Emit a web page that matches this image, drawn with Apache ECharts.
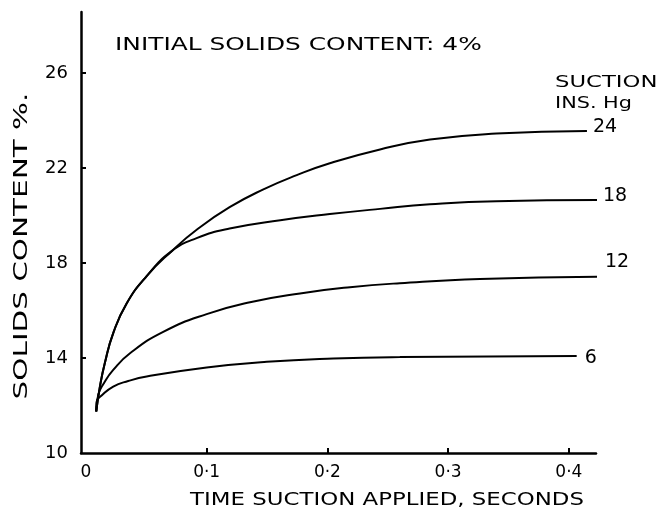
<!DOCTYPE html>
<html>
<head>
<meta charset="utf-8">
<script src="https://cdn.jsdelivr.net/npm/echarts@6/dist/echarts.min.js"></script>
<style>
html,body{margin:0;padding:0;background:#fff;}
#chart{width:661px;height:513px;}
</style>
</head>
<body>
<div id="chart"></div>
<script>
// Time suction applied (seconds) vs solids content (%)
const xTickValues = [0, 0.1, 0.2, 0.3, 0.4];
const yTickValues = [10, 14, 18, 22, 26];
const suctionNames = ['24', '18', '12', '6'];

const suction24 = [[0.0085,11.75],[0.0116,12.8],[0.0157,13.8],[0.0226,15.05],[0.0337,16.3],[0.0503,17.45],[0.071,18.5],[0.0917,19.4],[0.119,20.35],[0.147,21.1],[0.1746,21.7],[0.202,22.2],[0.2436,22.78],[0.285,23.2],[0.340,23.45],[0.415,23.56]];
const suction18 = [[0.0085,11.75],[0.0116,12.8],[0.0157,13.8],[0.0226,15.05],[0.0337,16.3],[0.0503,17.45],[0.071,18.5],[0.0917,19.05],[0.119,19.45],[0.161,19.8],[0.202,20.06],[0.2436,20.28],[0.285,20.47],[0.34,20.6],[0.438,20.65]];
const suction12 = [[0.0085,11.75],[0.0102,12.45],[0.015,12.95],[0.0226,13.5],[0.0365,14.2],[0.064,15.1],[0.1,15.85],[0.1359,16.35],[0.1773,16.72],[0.2187,16.98],[0.26,17.15],[0.3264,17.33],[0.4286,17.42]];
const suction6 = [[0.0085,11.75],[0.0089,12.16],[0.013,12.42],[0.0226,12.8],[0.035,13.03],[0.0503,13.22],[0.1,13.6],[0.1497,13.84],[0.2049,13.98],[0.26,14.04],[0.4065,14.08]];

const seriesData = [suction24, suction18, suction12, suction6];
const labelOffsets = [[0,-4],[0,-4],[2,-15],[2,2]];

const FONT = 'DejaVu Sans';
const chart = echarts.init(document.getElementById('chart'), null, {renderer:'canvas'});

const option = {
  backgroundColor: '#ffffff',
  animation: false,
  grid: {left: 81, right: 65, top: 12, bottom: 60, containLabel: false},
  xAxis: {
    type: 'value',
    min: -0.0041,
    max: 0.4225,
    splitLine: {show: false},
    axisLine: {show: true, onZero: false, lineStyle: {color: '#000', width: 2.5}},
    axisTick: {show: true, inside: true, length: 5, customValues: xTickValues.slice(1), lineStyle: {color: '#000', width: 2}},
    axisLabel: {
      customValues: xTickValues,
      margin: 11,
      color: '#000',
      fontFamily: FONT,
      fontSize: 17,
      formatter: v => v === 0 ? '0' : String(Math.round(v * 10) / 10).replace('.', '·')
    }
  },
  yAxis: {
    type: 'value',
    min: 10,
    max: 28.57,
    splitLine: {show: false},
    axisLine: {show: true, onZero: false, lineStyle: {color: '#000', width: 2.5}},
    axisTick: {show: true, inside: true, length: 5, customValues: yTickValues.slice(1), lineStyle: {color: '#000', width: 2}},
    axisLabel: {
      customValues: yTickValues,
      margin: 13,
      color: '#000',
      fontFamily: FONT,
      fontSize: 18
    }
  },
  series: seriesData.map((d, i) => ({
    type: 'line',
    name: suctionNames[i],
    data: d,
    smooth: 0.5,
    symbol: 'none',
    clip: false,
    lineStyle: {color: '#000', width: 2},
    endLabel: {
      show: true,
      formatter: '{a}',
      color: '#000',
      fontFamily: FONT,
      fontSize: 19,
      distance: 6,
      offset: labelOffsets[i]
    }
  })),
  graphic: [
    {type: 'text', x: 115, y: 45, scaleX: 1.38, style: {text: 'INITIAL SOLIDS CONTENT: 4%', fill: '#000', font: '18px "DejaVu Sans"', textAlign: 'left', textVerticalAlign: 'middle'}},
    {type: 'text', x: 555, y: 83, scaleX: 1.42, style: {text: 'SUCTION', fill: '#000', font: '16px "DejaVu Sans"', textAlign: 'left', textVerticalAlign: 'middle'}},
    {type: 'text', x: 555, y: 104, scaleX: 1.3, style: {text: 'INS. Hg', fill: '#000', font: '16px "DejaVu Sans"', textAlign: 'left', textVerticalAlign: 'middle'}},
    {type: 'text', x: 387, y: 500, scaleX: 1.27, style: {text: 'TIME SUCTION APPLIED, SECONDS', fill: '#000', font: '18px "DejaVu Sans"', textAlign: 'center', textVerticalAlign: 'middle'}},
    {type: 'text', x: 22, y: 246, rotation: Math.PI / 2, scaleX: 1.55, style: {text: 'SOLIDS CONTENT %.', fill: '#000', font: '19px "DejaVu Sans"', textAlign: 'center', textVerticalAlign: 'middle'}}
  ]
};
chart.setOption(option);
</script>
</body>
</html>
